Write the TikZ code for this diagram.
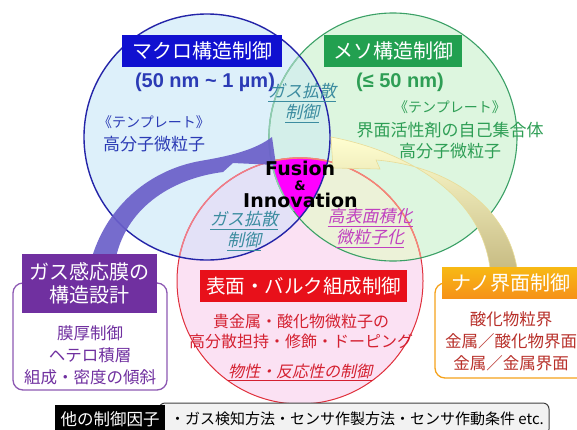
\documentclass[tikz,border=0pt]{standalone}
\usepackage{fontspec}
\setmainfont{Noto Sans CJK JP}
\newfontfamily\jpit{Noto Sans CJK JP}[FakeSlant=0.22]
\newfontfamily\latb{Liberation Sans}
\newfontfamily\fusionf{DejaVu Sans}[UprightFont=* Bold]
\definecolor{cblue}{HTML}{DDF0FA}
\definecolor{cgreen}{HTML}{DDF6DF}
\definecolor{cred}{HTML}{FBE1F3}
\definecolor{cbg}{HTML}{D4EFEA}
\definecolor{cbr}{HTML}{E3E1F7}
\definecolor{cgr}{HTML}{ECF2D8}
\definecolor{cmag}{HTML}{FF00FF}
\definecolor{lblue}{HTML}{2424A8}
\definecolor{lgreen}{HTML}{3BA066}
\definecolor{lred}{HTML}{E0303C}
\definecolor{tblue}{HTML}{1010D0}
\definecolor{tgreen}{HTML}{22A050}
\definecolor{tred}{HTML}{E8101A}
\definecolor{torange}{HTML}{F5A21B}
\definecolor{tpurple}{HTML}{7030A0}
\definecolor{xblue}{HTML}{2B3BB5}
\definecolor{xgreen}{HTML}{2E9E55}
\definecolor{xred}{HTML}{D42030}
\definecolor{xorange}{HTML}{B8302A}
\definecolor{xteal}{HTML}{3C8CA0}
\definecolor{xmag}{HTML}{C040C0}
\definecolor{parrowc}{HTML}{6A5FC9}
\begin{document}
\begin{tikzpicture}[x=1pt,y=-1pt,
  titlebox/.style={inner sep=0pt, text=white, font=\fontsize{20}{23}\selectfont, align=center},
  outbox/.style={rounded corners=10pt, line width=1.3pt, fill=white, inner sep=0pt},
  bodytxt/.style={inner sep=0pt, align=center, font=\fontsize{16.5}{22}\selectfont},
  sizetxt/.style={inner sep=0pt, font=\latb\bfseries\fontsize{20}{24}\selectfont},
  itxt/.style={inner sep=0pt, align=center, font=\jpit\fontsize{17}{20}\selectfont},
  fustxt/.style={inner sep=0pt, font=\fontsize{19}{22}\selectfont\fusionf}]
\useasboundingbox (0,0) rectangle (577,429);
\clip (0,0) rectangle (577,429);
% circles
\fill[cblue] (207,137) circle[radius=123pt];
\fill[cgreen] (393,137) circle[radius=124pt];
\fill[cred] (300,281) circle[radius=123pt];
\begin{scope}\clip (393,137) circle[radius=124pt];
  \fill[cgr] (300,281) circle[radius=123pt];
\end{scope}
\begin{scope}\clip (207,137) circle[radius=123pt];
  \fill[cbg] (393,137) circle[radius=124pt];
  \fill[cbr] (300,281) circle[radius=123pt];
  \begin{scope}\clip (393,137) circle[radius=124pt];
    \fill[cmag] (300,281) circle[radius=123pt];
  \end{scope}
\end{scope}
% outlines
\draw[lred, line width=1pt] (300,281) circle[radius=123pt];
\begin{scope}\clip (207,137) circle[radius=123pt];
  \draw[red!45!cbr, line width=1.4pt] (300,281) circle[radius=123pt];
\end{scope}
\begin{scope}\clip (393,137) circle[radius=124pt];
  \draw[red!45!cgr, line width=1.4pt] (300,281) circle[radius=123pt];
\end{scope}
\draw[lgreen, line width=1.1pt] (393,137) circle[radius=124pt];
\begin{scope}\clip (207,137) circle[radius=123pt];
  \clip (0,0) rectangle (577,210);
  \draw[lgreen!45!cbg, line width=1.5pt] (393,137) circle[radius=124pt];
\end{scope}
\draw[lblue, line width=1.4pt] (207,137) circle[radius=123pt];
% arrows
\fill[parrowc, fill opacity=0.92] (92,257) .. controls (108,205) and (150,170) .. (200,161)
  .. controls (230,156) and (255,150) .. (272,137) -- (276,165) -- (233,163) -- (223,172)
  .. controls (175,178) and (128,205) .. (116,257) -- cycle;
\shade[top color=yellow!18, bottom color={rgb,255:red,200;green,188;blue,132}, draw={rgb,255:red,232;green,220;blue,152}, line width=0.6pt]
  (490,268) .. controls (480,190) and (400,150) .. (331,137) -- (333,168) -- (380,169) -- (376,160)
  .. controls (440,165) and (505,200) .. (517,268) -- cycle;
% blue circle texts
\node[titlebox, fill=tblue, minimum width=160pt, minimum height=32pt] (macro) at (202,51) {マクロ構造制御};
\node[sizetxt, text=xblue] (macrosize) at (205,82) {(50 nm \textasciitilde\ 1 µm)};
\node[bodytxt, text=xblue, font=\fontsize{14}{18}\selectfont] (mtemp) at (154,122) {《テンプレート》};
\node[bodytxt, text=xblue, font=\fontsize{17}{20}\selectfont] (mpoly) at (154,144) {高分子微粒子};
% green circle texts
\node[titlebox, fill=tgreen, minimum width=138pt, minimum height=32pt] (meso) at (393,51) {メソ構造制御};
\node[sizetxt, text=xgreen] (mesosize) at (400,82) {(≤ 50 nm)};
\node[bodytxt, text=xgreen, font=\fontsize{14}{18}\selectfont] (gtemp) at (450,107) {《テンプレート》};
\node[bodytxt, text=xgreen, font=\fontsize{17}{20}\selectfont] (gsurf) at (450,130) {界面活性剤の自己集合体};
\node[bodytxt, text=xgreen, font=\fontsize{17}{20}\selectfont] (gpoly) at (450,151) {高分子微粒子};
% intersections
\node[itxt, text=xteal] (gas1) at (302,103) {\underline{ガス拡散}\\[1pt]\underline{制御}};
\node[itxt, text=xteal] (gas2) at (244,231) {\underline{ガス拡散}\\[1pt]\underline{制御}};
\node[itxt, text=xmag] (hsa) at (370,228) {\underline{高表面積化}\\[1pt]\underline{微粒子化}};
\node[fustxt, anchor=west] (fusion) at (265,168) {Fusion};
\node[fustxt, font=\fontsize{13}{15}\selectfont\fusionf] (amp) at (300,186) {\&};
\node[fustxt, anchor=west] (innov) at (243,200) {Innovation};
% red circle texts
\node[titlebox, fill=tred, minimum width=207pt, minimum height=32pt, font=\fontsize{19.5}{23}\selectfont] (surf) at (303.5,286) {表面・バルク組成制御};
\node[bodytxt, text=xred, font=\fontsize{16}{20}\selectfont] (rbody) at (301,331) {貴金属・酸化物微粒子の\\高分散担持・修飾・ドーピング};
\node[bodytxt, text=xred, font=\jpit\fontsize{16}{20}\selectfont] (rctrl) at (300,372) {\underline{物性・反応性の制御}};
% purple box
\node[outbox, draw=tpurple!80!white, minimum width=154pt, minimum height=107pt] (pout) at (90,336.5) {};
\node[titlebox, fill=tpurple, minimum width=135pt, minimum height=59pt] (ptitle) at (89.5,283) {ガス感応膜の\\構造設計};
\node[bodytxt, text=tpurple] (pbody) at (90,355) {膜厚制御\\ヘテロ積層\\組成・密度の傾斜};
% orange box
\node[outbox, draw=torange, minimum width=165pt, minimum height=95pt] (oout) at (517.5,330.5) {};
\node[titlebox, top color=torange!75!yellow, bottom color=torange!90!red, minimum width=138pt, minimum height=31pt] (otitle) at (511,282.5) {ナノ界面制御};
\node[bodytxt, text=xorange] (obody) at (511,341) {酸化物粒界\\金属／酸化物界面\\金属／金属界面};
% bottom bar
\node[draw={rgb,255:red,64;green,64;blue,64}, fill={rgb,255:red,242;green,242;blue,242}, rounded corners=6pt, line width=1pt, minimum width=390pt, minimum height=32pt, inner sep=0pt, font=\fontsize{15}{18}\selectfont] (others) at (354,419) {\hspace*{6pt}・ガス検知方法・センサ作製方法・センサ作動条件 etc.};
\node[fill=black, text=white, minimum width=110pt, minimum height=28pt, inner sep=0pt, font=\fontsize{16.5}{20}\selectfont] (otherlab) at (110,419) {他の制御因子};
\end{tikzpicture}
\end{document}
